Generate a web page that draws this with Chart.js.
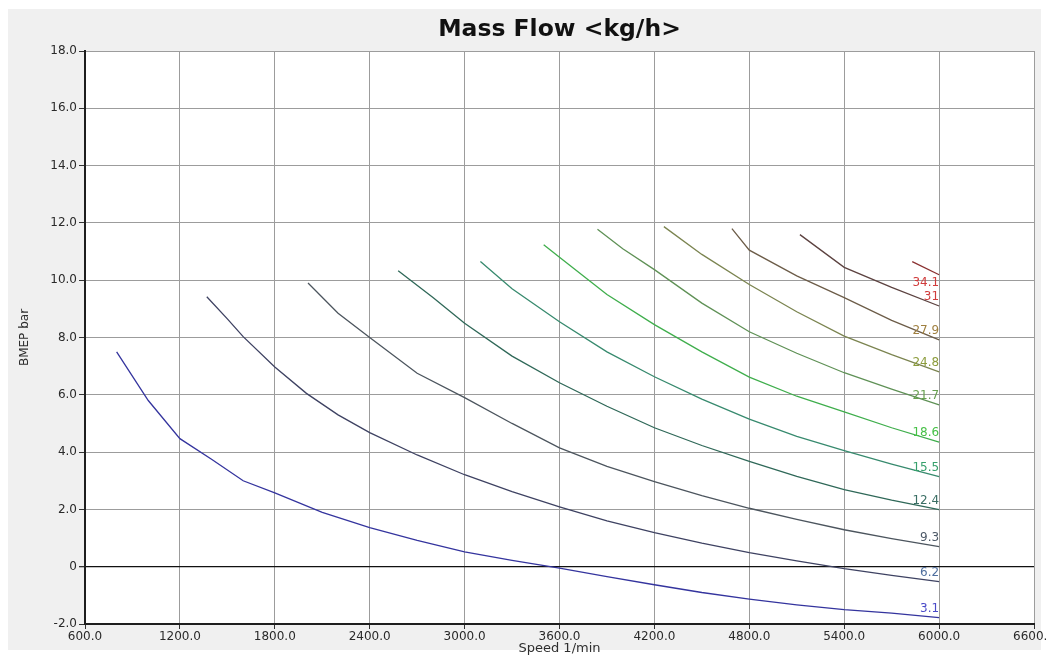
<!DOCTYPE html>
<html>
<head>
<meta charset="utf-8">
<script src="https://cdn.jsdelivr.net/npm/chart.js@4.4.1/dist/chart.umd.min.js"></script>
<style>
  html, body { margin: 0; padding: 0; background: #ffffff; }
  #wrap { width: 1048px; height: 657px; }
</style>
</head>
<body>
<div id="wrap"><canvas id="c" width="1048" height="657"></canvas></div>
<script>
// Mass flow iso-lines over an engine speed / BMEP map
const levels = ['3.1', '6.2', '9.3', '12.4', '15.5', '18.6', '21.7', '24.8', '27.9', '31', '34.1'];

const speed_3_1 = [800, 1000, 1200, 1400, 1600, 1800, 2100, 2400, 2700, 3000, 3300, 3600, 3900, 4200, 4500, 4800, 5100, 5400, 5700, 6000];
const bmep_3_1  = [7.5, 5.8, 4.47, 3.75, 3.0, 2.58, 1.9, 1.36, 0.92, 0.52, 0.22, -0.05, -0.35, -0.63, -0.9, -1.13, -1.33, -1.5, -1.62, -1.78];

const speed_6_2 = [1370, 1500, 1600, 1800, 2000, 2200, 2400, 2700, 3000, 3300, 3600, 3900, 4200, 4500, 4800, 5100, 5400, 5700, 6000];
const bmep_6_2  = [9.42, 8.65, 8.03, 6.97, 6.05, 5.3, 4.68, 3.9, 3.21, 2.62, 2.09, 1.6, 1.19, 0.82, 0.49, 0.2, -0.07, -0.3, -0.52];

const speed_9_3 = [2010, 2200, 2400, 2700, 3000, 3300, 3600, 3900, 4200, 4500, 4800, 5100, 5400, 5700, 6000];
const bmep_9_3  = [9.9, 8.85, 8.0, 6.75, 5.9, 5.0, 4.15, 3.5, 2.97, 2.48, 2.04, 1.65, 1.29, 0.98, 0.7];

const speed_12_4 = [2580, 2800, 3000, 3300, 3600, 3900, 4200, 4500, 4800, 5100, 5400, 5700, 6000];
const bmep_12_4  = [10.33, 9.4, 8.5, 7.35, 6.42, 5.6, 4.85, 4.23, 3.68, 3.15, 2.69, 2.32, 1.99];

const speed_15_5 = [3100, 3300, 3600, 3900, 4200, 4500, 4800, 5100, 5400, 5700, 6000];
const bmep_15_5  = [10.65, 9.7, 8.55, 7.5, 6.63, 5.85, 5.15, 4.55, 4.05, 3.58, 3.14];

const speed_18_6 = [3500, 3600, 3900, 4200, 4500, 4800, 5100, 5400, 5700, 6000];
const bmep_18_6  = [11.24, 10.8, 9.5, 8.45, 7.5, 6.62, 5.95, 5.4, 4.85, 4.35];

const speed_21_7 = [3840, 4000, 4200, 4500, 4800, 5100, 5400, 5700, 6000];
const bmep_21_7  = [11.78, 11.1, 10.37, 9.2, 8.2, 7.45, 6.77, 6.2, 5.65];

const speed_24_8 = [4260, 4500, 4800, 5100, 5400, 5700, 6000];
const bmep_24_8  = [11.87, 10.9, 9.85, 8.9, 8.05, 7.4, 6.8];

const speed_27_9 = [4690, 4800, 5100, 5400, 5700, 6000];
const bmep_27_9  = [11.8, 11.05, 10.15, 9.39, 8.6, 7.92];

const speed_31 = [5120, 5400, 5700, 6000];
const bmep_31  = [11.59, 10.45, 9.75, 9.1];

const speed_34_1 = [5830, 6000];
const bmep_34_1  = [10.65, 10.19];

const speedTicks = [600, 1200, 1800, 2400, 3000, 3600, 4200, 4800, 5400, 6000, 6600];
const bmepTicks  = [-2, 0, 2, 4, 6, 8, 10, 12, 14, 16, 18];

const speeds = [speed_3_1, speed_6_2, speed_9_3, speed_12_4, speed_15_5, speed_18_6, speed_21_7, speed_24_8, speed_27_9, speed_31, speed_34_1];
const bmeps  = [bmep_3_1, bmep_6_2, bmep_9_3, bmep_12_4, bmep_15_5, bmep_18_6, bmep_21_7, bmep_24_8, bmep_27_9, bmep_31, bmep_34_1];

const lineColors  = ['#34349e', '#3e4262', '#4c555e', '#2f6858', '#378a6e', '#3fae4c', '#5f9156', '#7b8450', '#6c5c48', '#5c4240', '#8a3030'];
const labelColors = ['#4a4ac8', '#4e6e9e', '#4e5a68', '#3a6e64', '#36a06c', '#46c046', '#68a050', '#8c9c3c', '#a08040', '#d03c3c', '#d03c3c'];

const datasets = levels.map((lvl, i) => ({
  label: lvl,
  data: speeds[i].map((s, k) => ({ x: s, y: bmeps[i][k] })),
  borderColor: lineColors[i],
  labelColor: labelColors[i],
  borderWidth: 1.3,
  pointRadius: 0,
  tension: 0,
  fill: false
}));

const FONT = '"DejaVu Sans", Verdana, sans-serif';

const backdrop = {
  id: 'backdrop',
  beforeDraw(chart) {
    const { ctx, chartArea: a } = chart;
    ctx.save();
    ctx.fillStyle = '#ffffff';
    ctx.fillRect(0, 0, chart.width, chart.height);
    ctx.fillStyle = '#f0f0f0';
    ctx.fillRect(8, 9, 1033, 641);
    ctx.fillStyle = '#ffffff';
    ctx.fillRect(a.left, a.top, a.right - a.left, a.bottom - a.top);
    ctx.restore();
  }
};

const contourLabels = {
  id: 'contourLabels',
  afterDatasetsDraw(chart) {
    const { ctx } = chart;
    ctx.save();
    ctx.font = '12px ' + FONT;
    ctx.textAlign = 'right';
    ctx.textBaseline = 'middle';
    const n = chart.data.datasets.length;
    chart.data.datasets.forEach((ds, i) => {
      const pts = chart.getDatasetMeta(i).data;
      const end = pts[pts.length - 1];
      // the highest level sits under its line end, the rest above
      const dy = (i === n - 1) ? 8 : -9;
      ctx.fillStyle = ds.labelColor;
      ctx.fillText(ds.label, end.x, end.y + dy);
    });
    ctx.restore();
  }
};

const titles = {
  id: 'titles',
  afterDraw(chart) {
    const { ctx, chartArea: a } = chart;
    const cx = (a.left + a.right) / 2;
    ctx.save();
    ctx.fillStyle = '#111111';
    ctx.textAlign = 'center';
    ctx.textBaseline = 'middle';
    ctx.font = 'bold 23.5px ' + FONT;
    ctx.fillText('Mass Flow <kg/h>', cx, 30);
    ctx.fillStyle = '#2e2e2e';
    ctx.font = '13px ' + FONT;
    ctx.fillText('Speed 1/min', cx, 649);
    ctx.font = '12px ' + FONT;
    ctx.translate(25, (a.top + a.bottom) / 2);
    ctx.rotate(-Math.PI / 2);
    ctx.fillText('BMEP bar', 0, 0);
    ctx.restore();
  }
};

new Chart(document.getElementById('c'), {
  type: 'line',
  data: { datasets },
  plugins: [backdrop, contourLabels, titles],
  options: {
    responsive: false,
    animation: false,
    devicePixelRatio: 1,
    layout: { padding: { top: 51, right: 14, left: 0, bottom: 0 } },
    plugins: { legend: { display: false }, tooltip: { enabled: false }, title: { display: false } },
    scales: {
      x: {
        type: 'linear',
        min: speedTicks[0],
        max: speedTicks[speedTicks.length - 1],
        afterBuildTicks(scale) { scale.ticks = speedTicks.map(v => ({ value: v })); },
        afterFit(scale) { scale.height = 33; scale.paddingLeft = 0; scale.paddingRight = 0; },
        ticks: {
          maxRotation: 0,
          autoSkip: false,
          padding: 1,
          color: '#2a2a2a',
          font: { family: FONT, size: 12 },
          callback: v => Number(v).toFixed(1)
        },
        grid: { color: '#9c9c9c', lineWidth: 1, tickLength: 5, tickColor: '#333333' },
        border: { display: true, color: '#1e1e1e', width: 2 }
      },
      y: {
        type: 'linear',
        min: bmepTicks[0],
        max: bmepTicks[bmepTicks.length - 1],
        afterBuildTicks(scale) { scale.ticks = bmepTicks.map(v => ({ value: v })); },
        afterFit(scale) { scale.width = 85; scale.paddingTop = 0; scale.paddingBottom = 0; },
        ticks: {
          autoSkip: false,
          padding: 2,
          color: '#2a2a2a',
          font: { family: FONT, size: 12 },
          callback: v => (v === 0 ? '0' : Number(v).toFixed(1))
        },
        grid: {
          color: c => (c.tick && c.tick.value === 0 ? '#111111' : '#9c9c9c'),
          lineWidth: c => (c.tick && c.tick.value === 0 ? 1.3 : 1),
          tickLength: 6,
          tickColor: '#333333'
        },
        border: { display: true, color: '#1e1e1e', width: 2 }
      }
    }
  }
});
</script>
</body>
</html>
